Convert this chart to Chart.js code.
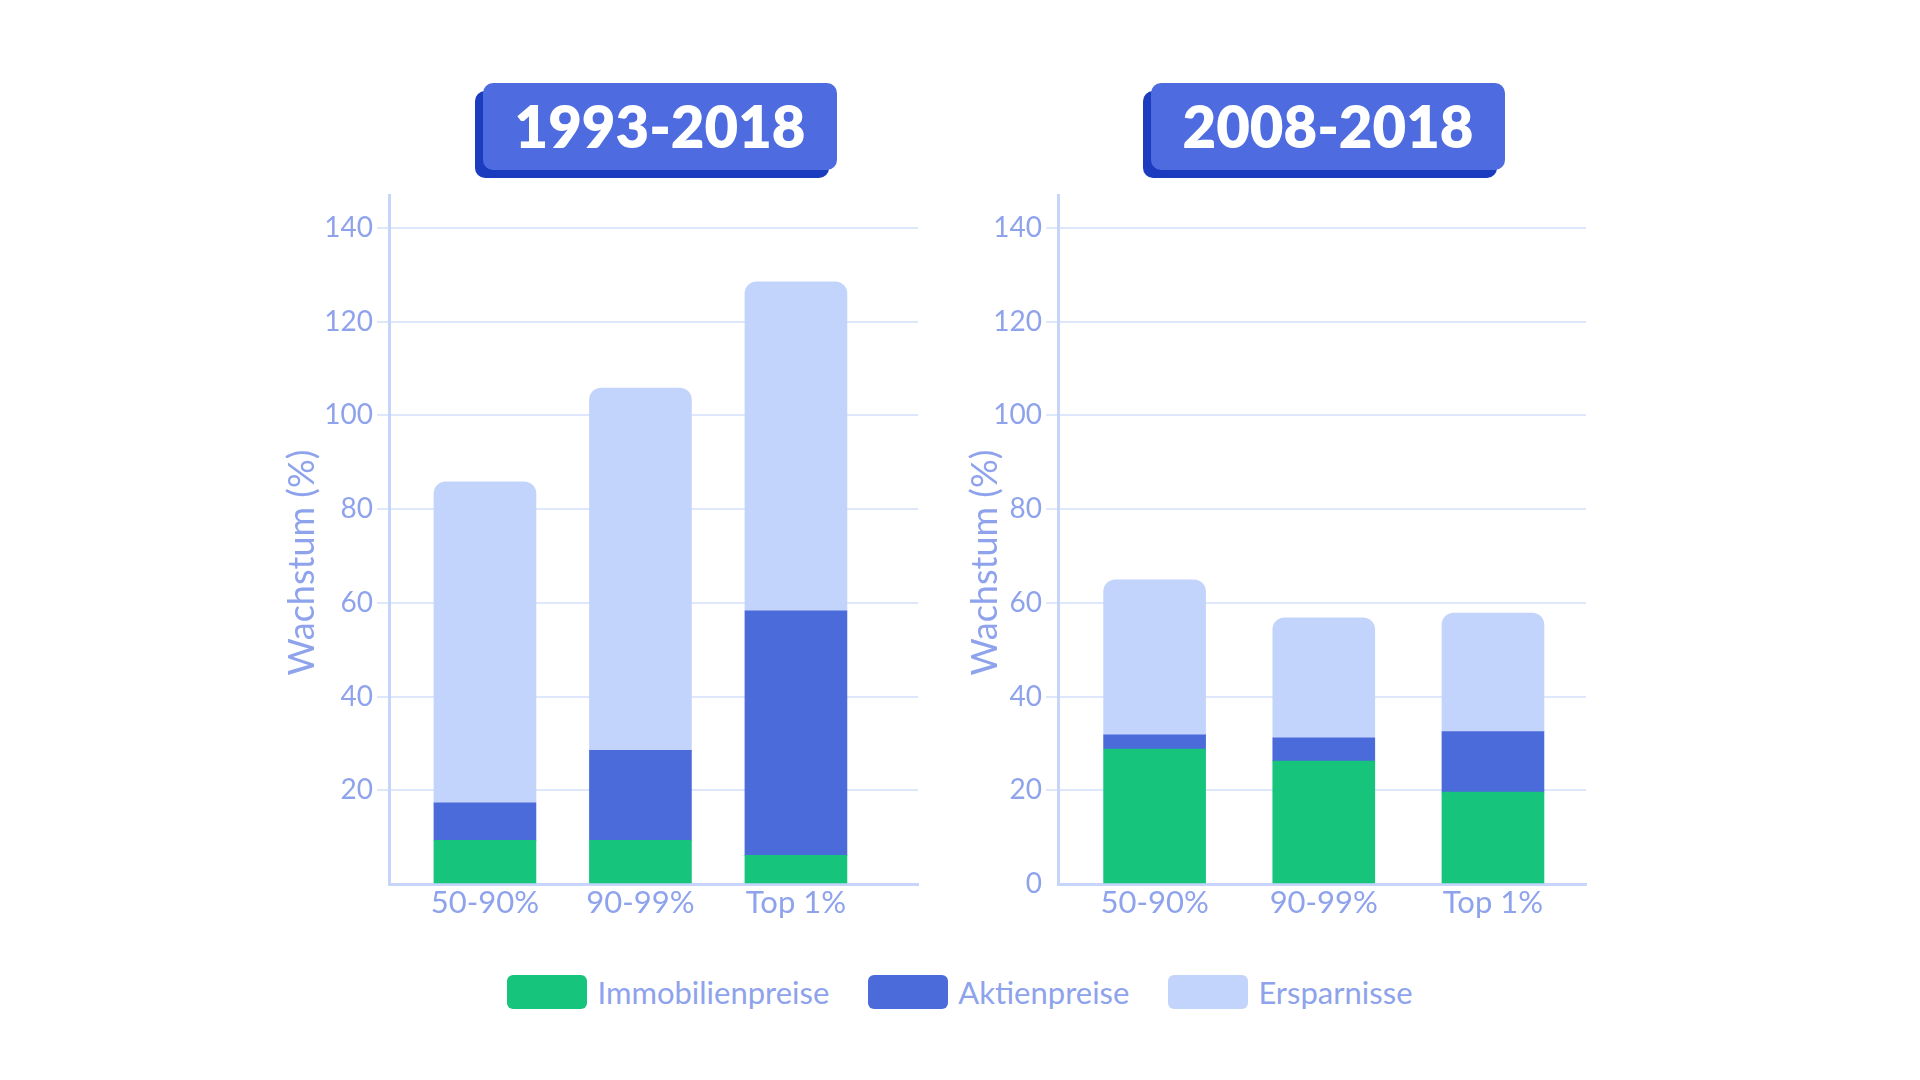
<!DOCTYPE html>
<html lang="de">
<head>
<meta charset="utf-8">
<title>Wachstum</title>
<script src="https://cdn.jsdelivr.net/npm/chart.js@4.4.1/dist/chart.umd.min.js"></script>
<style>
  html, body { margin: 0; padding: 0; background: #fff; }
  body { width: 1920px; height: 1080px; position: relative; overflow: hidden; font-family: Lato, sans-serif; }
  canvas { position: absolute; }
  .titre {
    position: absolute; top: 83px; width: 354px; height: 87px;
    background: #4e6ce0; border-radius: 10px; box-shadow: -8px 8px 0 #1c3cbf;
    color: #fff; font: 800 58px Lato, sans-serif;
    display: flex; align-items: center; justify-content: center; padding-bottom: 2px; box-sizing: border-box;
  }
  #titre1 { left: 483px; }
  #titre2 { left: 1151px; }
  #legende {
    position: absolute; left: 0; top: 975px; width: 1920px; height: 34px;
    display: flex; justify-content: center; align-items: center; gap: 39px;
    font-size: 31px; color: #8ea3ec;
  }
  .item { display: flex; align-items: center; gap: 10px; }
  .box { width: 80px; height: 34px; border-radius: 6px; display: inline-block; }
</style>
</head>
<body>
<div class="titre" id="titre1"></div>
<div class="titre" id="titre2"></div>
<canvas id="chart1" width="649" height="779" style="left:281px; top:165px"></canvas>
<canvas id="chart2" width="634" height="779" style="left:964px; top:165px"></canvas>
<div id="legende"></div>
<script>
const categories = ['50-90%', '90-99%', 'Top 1%'];
const periods = ['1993-2018', '2008-2018'];
const seriesNames = ['Immobilienpreise', 'Aktienpreise', 'Ersparnisse'];
const seriesColors = ['#16c47c', '#4c6bdb', '#c2d4fc'];

const immo1993 = [9.3, 9.3, 6.1];
const aktien1993 = [8.0, 19.2, 52.2];
const spar1993 = [68.5, 77.3, 70.2];

const immo2008 = [28.8, 26.2, 19.6];
const aktien2008 = [3.0, 5.0, 12.9];
const spar2008 = [33.1, 25.6, 25.3];

const yTicks = [0, 20, 40, 60, 80, 100, 120, 140];
const yMax = 147;

let textColor = '#8ea3ec';
let gridColor = '#dfe7fc';
let axisColor = '#c7d5fa';

Chart.defaults.font.family = 'Lato';

document.querySelector('#titre1').textContent = periods[0];
document.querySelector('#titre2').textContent = periods[1];

let legende = document.querySelector('#legende');
seriesNames.forEach((nom, i) => {
  legende.innerHTML += `<div class="item"><span class="box" style="background:${seriesColors[i]}"></span><span>${nom}</span></div>`;
});

function makeChart(id, series, cfg) {
  const ctx = document.getElementById(id);
  return new Chart(ctx, {
    type: 'bar',
    data: {
      datasets: series.map((values, i) => ({
        label: seriesNames[i],
        data: values.map((v, k) => ({ x: k, y: v })),
        backgroundColor: seriesColors[i],
        borderWidth: 0,
        borderRadius: i === series.length - 1 ? { topLeft: 12, topRight: 12, bottomLeft: 0, bottomRight: 0 } : 0,
        borderSkipped: false,
        barThickness: 102
      }))
    },
    options: {
      responsive: false,
      animation: false,
      layout: { padding: { top: 30, right: 12, bottom: 0, left: 0 } },
      plugins: { legend: { display: false }, tooltip: { enabled: false } },
      scales: {
        x: {
          type: 'linear',
          offset: false,
          stacked: true,
          min: cfg.xMin,
          max: cfg.xMax,
          grid: { display: false, drawTicks: false },
          border: { display: true, color: axisColor, width: 3 },
          ticks: {
            stepSize: 1,
            includeBounds: false,
            autoSkip: false,
            maxRotation: 0,
            padding: 0,
            color: textColor,
            font: { size: 31 },
            callback: (v) => categories[v] ?? ''
          },
          afterFit: (s) => { s.height = 60; }
        },
        y: {
          stacked: true,
          min: 0,
          max: yMax,
          ticks: {
            stepSize: 20,
            includeBounds: false,
            padding: 4,
            color: textColor,
            font: { size: 28 },
            callback: (v) => (!yTicks.includes(v) || (v === 0 && !cfg.showZero)) ? '' : v
          },
          grid: {
            color: (c) => c.tick && c.tick.value === 0 ? 'rgba(0,0,0,0)' : gridColor,
            lineWidth: 2,
            tickLength: 12
          },
          border: { display: true, color: axisColor, width: 3 },
          title: {
            display: true,
            text: 'Wachstum (%)     ',
            color: textColor,
            font: { size: 36 },
            padding: 0
          },
          afterFit: (s) => { s.width = cfg.yWidth; }
        }
      }
    }
  });
}

let chart1 = makeChart('chart1', [immo1993, aktien1993, spar1993], { xMin: -0.617, xMax: 2.785, yWidth: 108, showZero: false });
let chart2 = makeChart('chart2', [immo2008, aktien2008, spar2008], { xMin: -0.571, xMax: 2.55, yWidth: 94, showZero: true });
</script>
</body>
</html>
